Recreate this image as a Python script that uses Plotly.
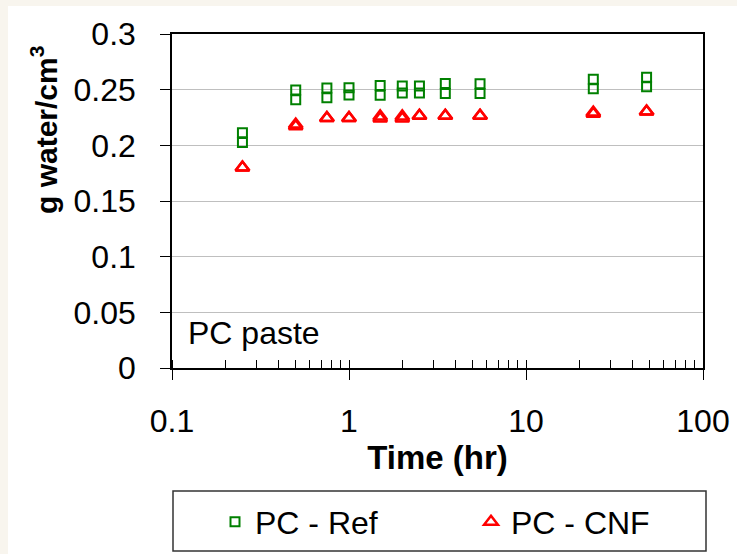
import plotly.graph_objects as go

# ---- data ----
time_hr = [0.25, 0.5, 0.75, 1, 1.5, 2, 2.5, 3.5, 5.5, 24, 48]
ref_rep1 = [0.2114, 0.2497, 0.2515, 0.2518, 0.2538, 0.2532, 0.2532, 0.2556, 0.2553, 0.2594, 0.2611]
ref_rep2 = [0.2026, 0.2409, 0.2427, 0.2453, 0.2450, 0.2470, 0.2470, 0.2465, 0.2465, 0.2509, 0.2526]
cnf_rep1 = [0.1800, 0.2187, 0.2246, 0.2246, 0.2260, 0.2260, 0.2266, 0.2266, 0.2266, 0.2295, 0.2304]
cnf_rep2 = [0.1800, 0.2172, 0.2246, 0.2246, 0.2240, 0.2240, 0.2266, 0.2266, 0.2266, 0.2284, 0.2304]
x_ticks = [0.1, 1, 10, 100]
x_ticktext = ["0.1", "1", "10", "100"]

# ---- layout geometry (pixels) ----
W, H = 737, 554
L, R, T, B = 172, 703, 34, 368
pw, ph = R - L, B - T
def px(x):
    return (x - L) / pw
def py(y):
    return (B - y) / ph

FONT = "Arial, Liberation Sans, sans-serif"
GREEN = "#008000"
RED = "#FF0000"

fig = go.Figure()
fig.add_trace(go.Scatter(
    x=time_hr + time_hr, y=ref_rep1 + ref_rep2, mode="markers", name="PC - Ref",
    marker=dict(symbol="square-open", size=9, color=GREEN, line=dict(width=2, color=GREEN)),
))
fig.add_trace(go.Scatter(
    x=time_hr + time_hr, y=cnf_rep1 + cnf_rep2, mode="markers", name="PC - CNF",
    marker=dict(symbol="triangle-up-open", size=12, color=RED, line=dict(width=2.5, color=RED)),
))
# helper trace for inner part of major x ticks
fig.add_trace(go.Scatter(x=[], y=[], xaxis="x2", showlegend=False, hoverinfo="skip"))

fig.update_layout(
    width=W, height=H,
    margin=dict(l=L, r=W - R, t=T, b=H - B, pad=0, autoexpand=False),
    paper_bgcolor="#F8F5EE",
    plot_bgcolor="white",
    font=dict(family=FONT, size=32, color="black"),
    showlegend=True,
    legend=dict(
        orientation="h", xref="paper", yref="paper",
        x=px(215), y=py(522), xanchor="left", yanchor="middle",
        bgcolor="rgba(0,0,0,0)", borderwidth=0,
        font=dict(family=FONT, size=32, color="black"),
        entrywidth=211, entrywidthmode="pixels",
    ),
    xaxis=dict(
        type="log", range=[-1, 2],
        tickmode="array", tickvals=x_ticks, ticktext=x_ticktext,
        ticks="outside", ticklen=10, tickwidth=1, tickcolor="black",
        minor=dict(ticks="inside", ticklen=8, tickwidth=1, tickcolor="black", dtick="D1", showgrid=False),
        showline=True, linecolor="black", linewidth=1.5, mirror=True,
        showgrid=False, zeroline=False,
        tickfont=dict(size=32), ticklabelstandoff=14,
        title=dict(text="<b>Time (hr)</b>", font=dict(size=33), standoff=8),
    ),
    xaxis2=dict(
        type="log", range=[-1, 2], overlaying="x", side="bottom",
        tickmode="array", tickvals=x_ticks, ticks="inside", ticklen=8, tickcolor="black",
        showticklabels=False, showline=False, showgrid=False, zeroline=False,
    ),
    yaxis=dict(
        range=[0, 0.3], dtick=0.05, tick0=0,
        ticks="outside", ticklen=10, tickwidth=1, tickcolor="black",
        showline=True, linecolor="black", linewidth=1.5, mirror=True,
        showgrid=True, gridcolor="#BFBFBF", gridwidth=1, zeroline=False,
        tickfont=dict(size=32), ticklabelstandoff=18,
    ),
    shapes=[
        dict(type="rect", xref="paper", yref="paper", layer="below",
             x0=px(8), x1=px(W + 20), y0=py(H + 20), y1=py(6),
             fillcolor="white", line=dict(width=0)),
        dict(type="rect", xref="paper", yref="paper",
             x0=px(173), x1=px(706), y0=py(551), y1=py(491),
             fillcolor="rgba(0,0,0,0)", line=dict(color="#333333", width=1.5)),
    ],
    annotations=[
        dict(text="PC paste", xref="paper", yref="paper", x=px(186), y=py(333),
             xanchor="left", yanchor="middle", showarrow=False, font=dict(size=32)),
        dict(text="<b>g water/cm<sup>3</sup></b>", xref="paper", yref="paper",
             x=px(44), y=py(130), xanchor="center", yanchor="middle", textangle=-90,
             showarrow=False, font=dict(size=30)),
    ],
)

fig.write_html("out.html")
